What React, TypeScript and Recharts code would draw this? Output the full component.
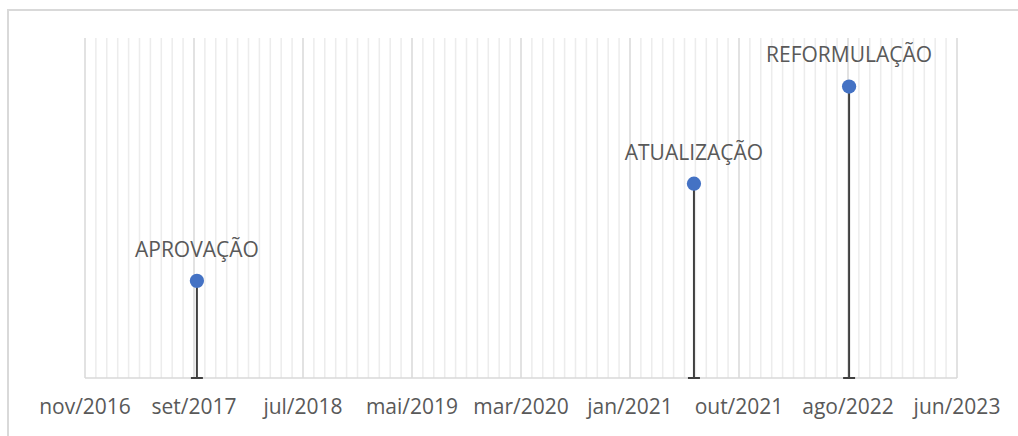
import React from 'react';
import {
  ComposedChart,
  Scatter,
  XAxis,
  YAxis,
  ZAxis,
  ReferenceLine,
  ErrorBar,
  LabelList,
} from 'recharts';

// axis origin (Excel date axis, major unit 300 days, minor 30 days)
const AXIS_START = '2016-11-25';
const TICK_LABELS = [
  'nov/2016', 'set/2017', 'jul/2018', 'mai/2019', 'mar/2020',
  'jan/2021', 'out/2021', 'ago/2022', 'jun/2023',
];

const EVENTS = ['APROVAÇÃO', 'ATUALIZAÇÃO', 'REFORMULAÇÃO'];
const EVENT_DATES = ['2017-09-29', '2021-06-28', '2022-08-29'];
const EVENT_LEVELS = [1, 2, 3];

const DAY = 86400000;
const toDays = (d: string) => (Date.parse(d) - Date.parse(AXIS_START)) / DAY;

const data = EVENTS.map((name, i) => ({
  name,
  day: toDays(EVENT_DATES[i]),
  level: EVENT_LEVELS[i],
  drop: [EVENT_LEVELS[i], 0],
}));

const majorTicks = TICK_LABELS.map((_, i) => i * 300);
const minorTicks: number[] = [];
for (let d = 30; d < 2400; d += 30) if (d % 300 !== 0) minorTicks.push(d);

const App: React.FC = () => {
  return (
    <div style={{ position: 'absolute', left: 0, top: 0, width: 1018, height: 436, background: '#fff', overflow: 'hidden' }}>
      <div
        style={{
          position: 'absolute',
          left: 7,
          top: 9,
          width: 1030,
          height: 440,
          border: '2px solid #d9d9d9',
          boxSizing: 'border-box',
        }}
      />
      <div style={{ position: 'absolute', left: 0, top: 0 }}>
        <ComposedChart
          width={1018}
          height={436}
          data={data}
          margin={{ top: 38, right: 61, left: 85, bottom: 0 }}
        >
          <XAxis
            type="number"
            dataKey="day"
            domain={[0, 2400]}
            ticks={majorTicks}
            interval={0}
            height={58}
            tickLine={false}
            axisLine={false}
            tickFormatter={(v: number) => TICK_LABELS[Math.round(v / 300)]}
            tick={{ fill: '#595959', fontSize: 21, fontFamily: 'Open Sans' }}
            tickMargin={15}
          />
          <YAxis type="number" domain={[0, 3.5]} hide width={0} />
          <ZAxis range={[160, 160]} />
          {minorTicks.map((t) => (
            <ReferenceLine key={`m${t}`} x={t} stroke="#ececec" strokeWidth={1.5} />
          ))}
          {majorTicks.map((t) => (
            <ReferenceLine key={`M${t}`} x={t} stroke="#d9d9d9" strokeWidth={1.5} />
          ))}
          <ReferenceLine y={0} stroke="#d9d9d9" strokeWidth={1.5} />
          {/* drop lines (Excel minus error bars) */}
          <Scatter
            dataKey="level"
            fill="none"
            shape={() => <g />}
            isAnimationActive={false}
            legendType="none"
          >
            <ErrorBar
              dataKey="drop"
              direction="y"
              width={6}
              stroke="#404040"
              strokeWidth={2}
              isAnimationActive={false}
            />
          </Scatter>
          <Scatter
            dataKey="level"
            fill="#4472c4"
            shape="circle"
            isAnimationActive={false}
            legendType="none"
          >
            <LabelList
              dataKey="name"
              position="top"
              offset={17}
              fill="#595959"
              fontSize={21}
              fontFamily="Open Sans"
            />
          </Scatter>
        </ComposedChart>
      </div>
    </div>
  );
};

export default App;
